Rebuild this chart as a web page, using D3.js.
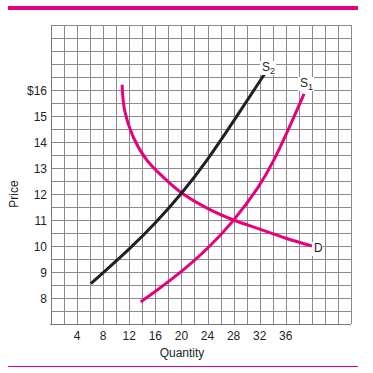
<!DOCTYPE html>
<html>
<head>
<meta charset="utf-8">
<script src="https://cdn.jsdelivr.net/npm/d3@7"></script>
<style>
  body { margin: 0; background: #fff; }
  svg { display: block; font-family: "Liberation Sans", Arial, sans-serif; }
</style>
</head>
<body>
<div id="chart"></div>
<script>
// quantity / price readings
const xTicks = [4, 8, 12, 16, 20, 24, 28, 32, 36];
const yTicks = [8, 9, 10, 11, 12, 13, 14, 15, 16];

const demand = [[10.9, 16.2], [11.3, 15.2], [12.6, 14.2], [14.7, 13.3], [17.2, 12.65],
                [20, 12.05], [24, 11.45], [28, 11.0], [32, 10.65], [36, 10.3], [40, 10.0]];
const supply1 = [[13.75, 7.85], [16, 8.25], [20, 9.0], [24, 9.88], [28, 10.95],
                 [32, 12.3], [34, 13.2], [36, 14.25], [38.8, 15.85]];
const supply2 = [[6.1, 8.55], [8, 8.97], [12, 9.87], [16, 10.87], [20, 12.0],
                 [24, 13.3], [28, 14.8], [32.7, 16.6]];

const W = 373, H = 373;
const pink = "#e6007e", ink = "#231f20", gridCol = "#8a8a8a";

const svg = d3.select("#chart").append("svg")
    .attr("width", W).attr("height", H);

const x = d3.scaleLinear().domain([0, 46]).range([51, 351]);
const y = d3.scaleLinear().domain([7, 18.5]).range([324, 25]);

// top and bottom rules
svg.append("rect").attr("x", 8).attr("y", 6).attr("width", 350).attr("height", 4).attr("fill", pink);
svg.append("line").attr("x1", 8).attr("x2", 358).attr("y1", 366.5).attr("y2", 366.5)
    .attr("stroke", pink).attr("stroke-width", 1);

// grid
const grid = svg.append("g").attr("stroke", gridCol).attr("stroke-width", 1);
grid.selectAll(".v").data(d3.range(0, 47, 2)).join("line")
    .attr("x1", d => Math.round(x(d)) + 0.5).attr("x2", d => Math.round(x(d)) + 0.5)
    .attr("y1", y(18.5)).attr("y2", y(7));
grid.selectAll(".h").data(d3.range(7, 18.51, 0.5)).join("line")
    .attr("y1", d => Math.round(y(d)) + 0.5).attr("y2", d => Math.round(y(d)) + 0.5)
    .attr("x1", x(0)).attr("x2", x(46));
// axis lines a touch darker
svg.append("line").attr("x1", x(0) - 1).attr("x2", x(46)).attr("y1", Math.round(y(7)) + 0.5).attr("y2", Math.round(y(7)) + 0.5)
    .attr("stroke", "#777");
svg.append("line").attr("x1", Math.round(x(0)) + 0.5).attr("x2", Math.round(x(0)) + 0.5).attr("y1", y(18.5)).attr("y2", y(7))
    .attr("stroke", "#777");

// tick labels
svg.append("g").selectAll("text").data(xTicks).join("text")
    .attr("x", d => x(d)).attr("y", 340)
    .attr("text-anchor", "middle").attr("font-size", 12).attr("fill", ink)
    .text(d => d);
svg.append("g").selectAll("text").data(yTicks).join("text")
    .attr("x", 47).attr("y", d => y(d) + 5)
    .attr("text-anchor", "end").attr("font-size", 12).attr("fill", ink)
    .text(d => d === 16 ? "$16" : d);

// axis titles
svg.append("text").attr("x", 182).attr("y", 357).attr("text-anchor", "middle")
    .attr("font-size", 12).attr("fill", ink).text("Quantity");
svg.append("text").attr("transform", "translate(18,194) rotate(-90)").attr("text-anchor", "middle")
    .attr("font-size", 12).attr("fill", ink).text("Price");

// curves
const line = d3.line().x(d => x(d[0])).y(d => y(d[1])).curve(d3.curveBasis);
svg.append("path").datum(demand).attr("d", line.curve(d3.curveCatmullRom.alpha(0.5)))
    .attr("fill", "none").attr("stroke", pink).attr("stroke-width", 3);
svg.append("path").datum(supply1).attr("d", line.curve(d3.curveBasis))
    .attr("fill", "none").attr("stroke", pink).attr("stroke-width", 3);
svg.append("path").datum(supply2).attr("d", line.curve(d3.curveBasis))
    .attr("fill", "none").attr("stroke", ink).attr("stroke-width", 3);

// curve labels on white patches
function label(px, py, main, sub) {
    const g = svg.append("g");
    g.append("rect").attr("x", px - 2).attr("y", py - 10).attr("width", sub ? 16 : 11).attr("height", 14)
        .attr("fill", "#fff");
    const t = g.append("text").attr("x", px).attr("y", py).attr("font-size", 12).attr("fill", ink).text(main);
    if (sub) t.append("tspan").attr("font-size", 9).attr("dy", 3).text(sub);
}
label(262, 71, "S", "2");
label(300, 87, "S", "1");
label(314, 252, "D", null);
</script>
</body>
</html>
